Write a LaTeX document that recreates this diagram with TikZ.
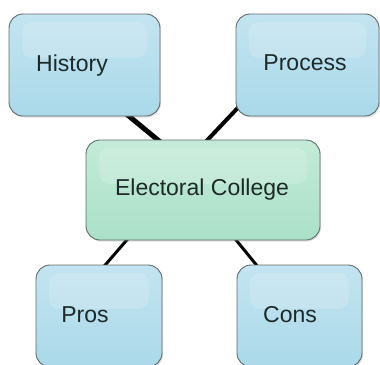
\documentclass[tikz,border=0pt]{standalone}
\usepackage{fontspec}
\setmainfont{Liberation Sans}
\usetikzlibrary{shadows}
\pgfdeclarelayer{bg}
\pgfsetlayers{bg,main}
\definecolor{bluetop}{HTML}{C3E4F0}
\definecolor{bluebot}{HTML}{AAD9EA}
\definecolor{greentop}{HTML}{C3EBD8}
\definecolor{greenbot}{HTML}{ABE0C8}
\definecolor{boxline}{HTML}{5E6B6B}
\definecolor{txt}{HTML}{1E2A2A}
\tikzset{
  box/.style={rectangle, rounded corners=14pt, draw=boxline, line width=0.9pt,
    drop shadow={opacity=0.25, shadow xshift=1pt, shadow yshift=-1.5pt},
    path picture={\fill[white,opacity=0.16,rounded corners=10pt]
      ([xshift=13pt,yshift=-8pt]path picture bounding box.north west) rectangle
      ([xshift=-13pt,yshift=-44pt]path picture bounding box.north east);}},
  bluebox/.style={box, top color=bluetop, bottom color=bluebot},
  greenbox/.style={box, top color=greentop, bottom color=greenbot},
  lbl/.style={font=\fontsize{23}{26}\selectfont, text=txt, anchor=base, inner sep=0pt},
  link/.style={draw=black, line cap=butt}
}
\begin{document}
\begin{tikzpicture}[x=1pt,y=-1pt]
\useasboundingbox (0,0) rectangle (380,364);
\node[bluebox, minimum width=151pt, minimum height=102pt] (history) at (84.5,65) {};
\node[bluebox, minimum width=143pt, minimum height=102pt] (process) at (307.5,65) {};
\node[greenbox, minimum width=234pt, minimum height=100pt] (elec) at (203,190) {};
\node[bluebox, minimum width=126pt, minimum height=102pt] (pros) at (99,316) {};
\node[bluebox, minimum width=125pt, minimum height=102pt] (cons) at (299.5,316) {};
\node[lbl] (historyT) at (72,71) {History};
\node[lbl] (processT) at (305,70) {Process};
\node[lbl] (elecT) at (202,195) {Electoral College};
\node[lbl] (prosT) at (85,322) {Pros};
\node[lbl] (consT) at (290,322) {Cons};
\begin{pgfonlayer}{bg}
\draw[link, line width=5pt] ([xshift=40pt,yshift=4pt]history.south) -- ([xshift=-42pt,yshift=-3pt]elec.north);
\draw[link, line width=4pt] ([xshift=14pt,yshift=21pt]process.south west) -- ([xshift=2pt,yshift=-3pt]elec.north);
\draw[link, line width=3pt] ([xshift=-74pt,yshift=3pt]elec.south) -- ([xshift=4pt,yshift=-3pt]pros.north);
\draw[link, line width=3pt] ([xshift=31pt,yshift=3pt]elec.south) -- ([xshift=-41pt,yshift=-3pt]cons.north);
\end{pgfonlayer}
\end{tikzpicture}
\end{document}
